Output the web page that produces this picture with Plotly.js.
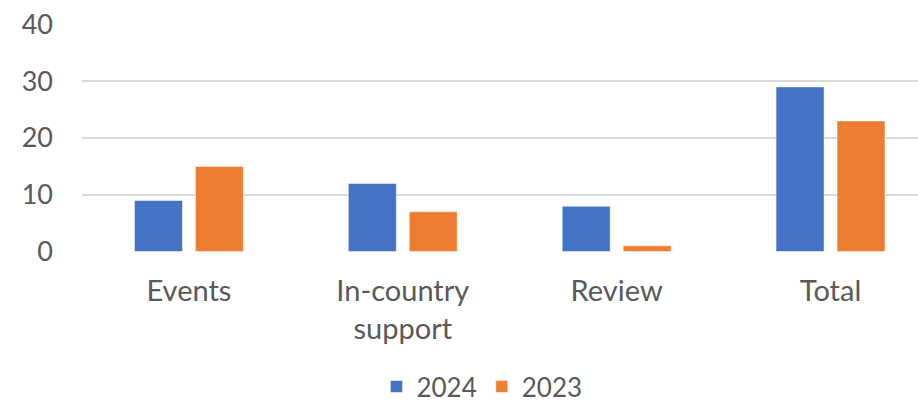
<!DOCTYPE html>
<html>
<head>
<meta charset="utf-8">
<script src="https://cdn.plot.ly/plotly-3.0.1.min.js"></script>
<style>html,body{margin:0;padding:0;background:#fff;}#chart{width:918px;height:404px;}</style>
</head>
<body>
<div id="chart"></div>
<script>
const categories = ["Events", "In-country<br>support", "Review", "Total"];
const series2024 = [9, 12, 8, 29];
const series2023 = [15, 7, 1, 23];
const yTicks = [0, 10, 20, 30, 40];

const font = {family: "Lato, Open Sans, sans-serif", size: 29, color: "#595959"};
const yFont = {family: "Lato, Open Sans, sans-serif", size: 27, color: "#595959"};
const legendFont = {family: "Lato, Open Sans, sans-serif", size: 26, color: "#595959"};

const data = [
  {type: "bar", name: "2024", x: categories, y: series2024,
   marker: {color: "#4472C4", line: {color: "rgba(255,255,255,0.5)", width: 1}}},
  {type: "bar", name: "2023", x: categories, y: series2023,
   marker: {color: "#ED7D31", line: {color: "rgba(255,255,255,0.5)", width: 1}}}
];

const layout = {
  width: 918, height: 404,
  margin: {l: 82, r: 0, t: 24, b: 152},
  paper_bgcolor: "#fff", plot_bgcolor: "#fff",
  font: font,
  barmode: "group", bargap: 0.43, bargroupgap: 0.213,
  showlegend: true,
  legend: {orientation: "h", x: 0.525, xanchor: "center", xref: "container",
           y: 0.043, yanchor: "middle", yref: "container",
           font: legendFont, itemwidth: 30, traceorder: "normal"},
  xaxis: {tickfont: font, automargin: false, range: [-0.5, 3.409], showgrid: false, zeroline: false, showline: false, ticks: "", ticklabelstandoff: 19},
  yaxis: {range: [-0.08, 40.08], automargin: false, tickvals: yTicks, tickfont: yFont, showgrid: true,
          gridcolor: "#d9d9d9", gridwidth: 2, zeroline: false, showline: false, ticks: "", ticklabelstandoff: 28}
};

Plotly.newPlot("chart", data, layout, {displayModeBar: false, staticPlot: true});
</script>
</body>
</html>
